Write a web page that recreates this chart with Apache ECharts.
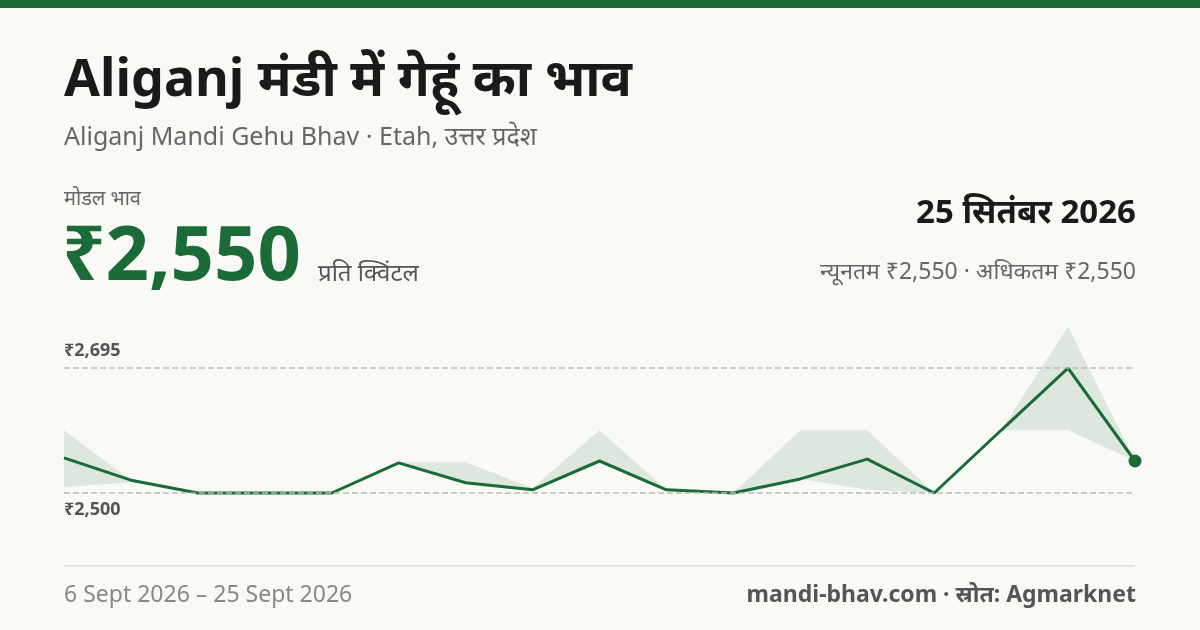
<!DOCTYPE html><html><head><meta charset="utf-8"><script src="https://cdn.jsdelivr.net/npm/echarts@6/dist/echarts.min.js"></script>
<style>html,body{margin:0;background:#f9f9f5}#c{width:1200px;height:630px}</style></head><body><div id="c"></div><script>
const dates=['6','7','8','9','10','11','12','13','15','16','17','18','19','20','22','24','25'];
const modal=[2555,2520,2500,2500,2500,2547,2516,2505,2550,2505,2500,2522,2553,2500,2598,2695,2550];
const minP=[2509,2517,2500,2500,2500,2547,2516,2505,2550,2505,2500,2522,2505,2500,2598,2598,2550];
const maxP=[2598,2520,2500,2500,2500,2548,2548,2508,2598,2505,2500,2598,2598,2500,2598,2760,2550];
const refLines=[{v:2695,t:'₹2,695'},{v:2500,t:'₹2,500'}];
const F='"Noto Sans","Noto Sans CJK SC",sans-serif';
const c=echarts.init(document.getElementById('c'));
const last=modal.length-1;
c.setOption({backgroundColor:'#f9f9f5',animation:false,
grid:{left:64,right:65,top:301,height:256},
xAxis:{type:'category',data:dates,boundaryGap:false,show:false},
yAxis:{type:'value',min:2400,max:2800,show:false},
graphic:[
{type:'rect',shape:{x:0,y:0,width:1200,height:8},style:{fill:'#1a6b37'}},
{type:'text',left:64,top:55,style:{text:'Aliganj मंडी में गेहूं का भाव',font:'bold 52px '+F,fill:'#1a1a1a'}},
{type:'text',left:64,top:125,style:{text:'Aliganj Mandi Gehu Bhav · Etah, उत्तर प्रदेश',font:'25px '+F,fill:'#666'}},
{type:'text',left:64,top:189,style:{text:'मोडल भाव',font:'20px '+F,fill:'#666'}},
{type:'text',left:62,top:220,style:{text:'₹2,550',font:'bold 76px '+F,fill:'#1a6b37'}},
{type:'text',left:318,top:262,style:{text:'प्रति क्विंटल',font:'24px '+F,fill:'#555'}},
{type:'text',right:64,top:197,style:{text:'25 सितंबर 2026',font:'bold 33px '+F,fill:'#1a1a1a',align:'right'}},
{type:'text',right:64,top:261,style:{text:'न्यूनतम ₹2,550 · अधिकतम ₹2,550',font:'23px '+F,fill:'#666',align:'right'}},
{type:'rect',shape:{x:64,y:565,width:1071,height:1.5},style:{fill:'#ddd'}},
{type:'text',left:64,top:584,style:{text:'6 Sept 2026 – 25 Sept 2026',font:'23px '+F,fill:'#888'}},
{type:'text',right:64,top:584,style:{text:'mandi-bhav.com · स्रोत: Agmarknet',font:'bold 23px '+F,fill:'#555',align:'right'}}
],
series:[
{type:'line',data:minP,stack:'b',symbol:'none',lineStyle:{opacity:0},silent:true},
{type:'line',data:maxP.map((v,i)=>v-minP[i]),stack:'b',symbol:'none',lineStyle:{opacity:0},areaStyle:{color:'#1a6b37',opacity:0.12},silent:true},
{type:'line',data:modal.map((v,i)=>({value:v,symbol:i===last?'circle':'none',symbolSize:13})),lineStyle:{color:'#1a6b37',width:3},itemStyle:{color:'#1a6b37'},
markLine:{symbol:'none',silent:true,lineStyle:{type:'dashed',color:'#bbb',width:1.5},
data:refLines.map(r=>({yAxis:r.v,label:{formatter:r.t,position:r.v>2600?'insideStartTop':'insideStartBottom',distance:[0,8],color:'#555',fontWeight:'bold',fontSize:18,fontFamily:F}}))}}
]});
</script></body></html>
